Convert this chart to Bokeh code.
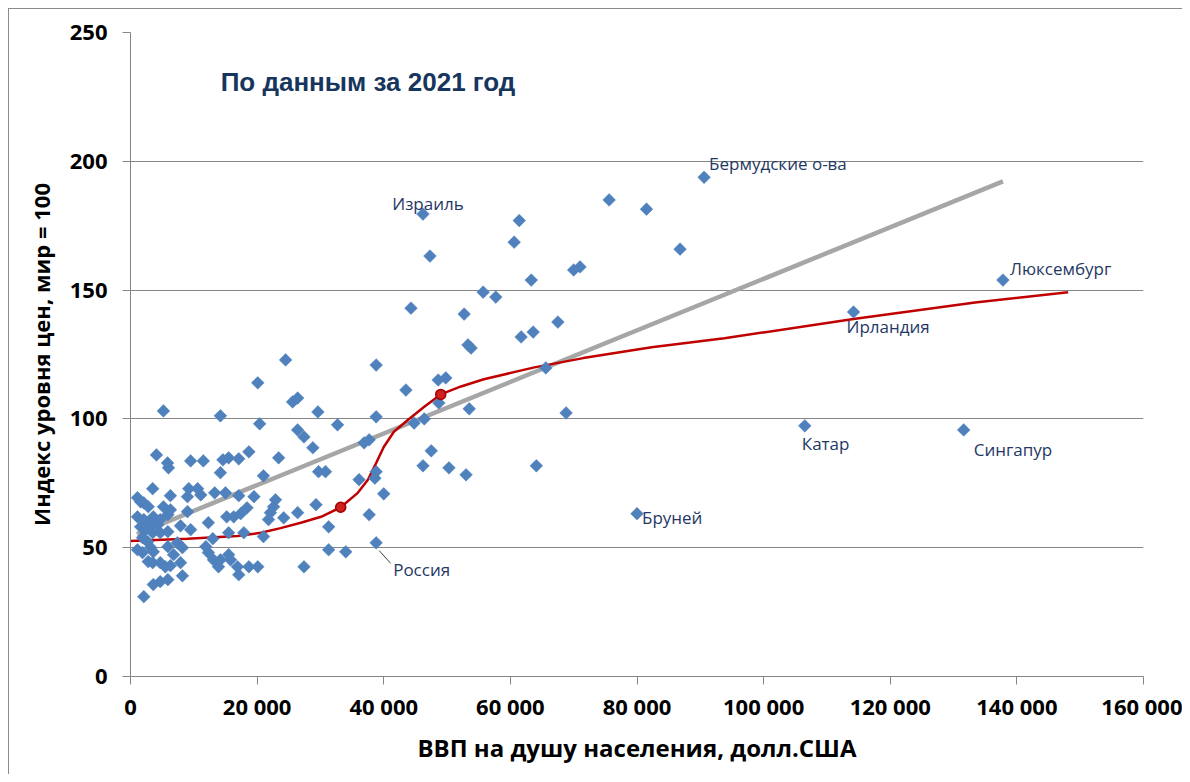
import numpy as np
from bokeh.plotting import figure
from bokeh.models import Label, FixedTicker, Range1d, ColumnDataSource
from bokeh.embed import file_html
from bokeh.resources import INLINE

# ---------------- data ----------------
gdp = [4100, 5850, 6000, 9500, 11500, 14600, 15500, 17100, 18700, 14200, 21000,
       3500, 6300, 9200, 10600, 9000, 11100, 13300, 15000, 17100, 19500,
       1100, 1600, 2100, 2800, 1100, 2100, 3200, 4300, 5200, 6300, 5900, 3600, 4700,
       9000, 12300, 15200, 16300, 17400, 18400, 7900, 9500, 1600, 2400, 3500, 4700,
       5900, 15500, 17900, 1900, 2700, 13000, 1100, 1900, 3200, 3600, 5900, 7400,
       8200, 11900, 12300, 2800, 3500, 4700, 5500, 6300, 6800, 7900, 13100, 14200,
       15500, 15800, 13900, 16900, 18700, 20100, 17100, 8200, 3600, 4700, 5900, 2100,
       5200, 14200, 20100, 20400,
       24500, 25600, 26400, 29600, 38800, 38800, 32700, 26400, 27400, 28800, 36900,
       37700, 23400, 29700, 30800, 38800, 38600, 36100, 40000, 22900, 22600, 22100,
       21800, 24200, 26400, 29300, 37700, 31300, 21000, 38800, 31300, 34000, 27400,
       43500, 48600, 49800, 48700, 53500, 44800, 46400, 47500, 46200, 50300, 53000,
       64100, 65600, 68800, 44300, 53300, 53800, 61700, 63600, 67500, 52700, 55700,
       57700, 63300, 70000, 71000, 60600, 61400, 47300, 46200, 75600, 81500, 86800,
       90600, 80000, 106500, 114200, 131600, 137800]
price = [86, 82.9, 81, 83.7, 83.7, 84.1, 84.9, 84.5, 87.2, 79.1, 77.9,
         72.9, 70.2, 72.9, 72.9, 69.8, 70.5, 71.3, 71.3, 70.2, 69.8,
         69.4, 67.8, 67.4, 65.9, 62, 60.9, 59.7, 58.9, 65.9, 64.7, 62.8, 62, 60.9,
         64, 59.7, 62, 62, 63.2, 65.5, 58.5, 57, 58.1, 57, 55.8, 55.8,
         56.2, 55.8, 55.8, 53.9, 52.3, 53.5, 49.2, 48.1, 50, 48.4, 50.4, 51.9,
         50, 50.4, 48.1, 44.6, 44.2, 44.2, 42.6, 43, 47.3, 44.2, 45.3, 45.3,
         47.3, 45.3, 42.6, 42.6, 42.6, 42.6, 39.5, 39.1, 35.7, 36.8, 37.6, 31,
         103.1, 101.2, 114, 98.1,
         122.9, 106.6, 108.1, 102.7, 120.9, 100.8, 97.7, 95.7, 93, 88.8, 90.7,
         91.9, 84.9, 79.5, 79.5, 79.5, 77.0, 76.4, 70.9, 68.6, 65.9, 63.6,
         60.9, 61.6, 63.6, 66.7, 62.8, 58.1, 54.3, 51.9, 49.2, 48.4, 42.6,
         111.2, 115.1, 115.9, 106.2, 103.9, 98.4, 100, 87.6, 81.8, 81, 78.3,
         81.8, 119.8, 102.3, 143, 128.7, 127.5, 131.8, 133.7, 137.6, 140.7, 149.2,
         147.3, 153.9, 157.8, 159, 168.6, 177, 163.2, 179.5, 185, 181.4, 165.9,
         193.8, 63.2, 97.3, 141.5, 95.7, 153.9]

# linear trend (grey)
trend_x = [1000, 137800]
trend_y = [55.3, 192.2]

# smoothed curve (red)
curve_x = [0, 9000, 16900, 20600, 23700, 26900, 30100, 33200, 35900, 37500, 38800,
           40000, 41600, 43800, 46400, 49000, 52200, 55800, 63800, 71500, 82300,
           93800, 114200, 133400, 148100]
curve_y = [52.6, 53.5, 54.5, 55.8, 57.6, 59.7, 62, 65.7, 71.3, 76.4, 82.9,
           89.1, 95, 99.6, 104.7, 109.5, 112.6, 115.4, 120.0, 123.6, 127.8,
           131.3, 138.8, 145.2, 149.2]
knot_x = [33200, 49000]
knot_y = [65.7, 109.5]

# labelled countries
lab_names = ["Израиль", "Бермудские о-ва", "Люксембург", "Ирландия", "Катар",
             "Сингапур", "Бруней", "Россия"]
lab_x = [46200, 90600, 137800, 114200, 106500, 131600, 80000, 38800]
lab_y = [179.5, 193.8, 153.9, 141.5, 97.3, 95.7, 63.2, 51.9]

x_ticks = [0, 20000, 40000, 60000, 80000, 100000, 120000, 140000, 160000]
y_ticks = [0, 50, 100, 150, 200, 250]

title_text = "По данным за 2021 год"
x_title = "ВВП на душу населения, долл.США"
y_title = "Индекс уровня цен, мир = 100"

# ---------------- layout / style ----------------
label_offsets = {  # (x_offset, y_offset, align)
    "Израиль": (5, 11, "center"),
    "Бермудские о-ва": (5, 14, "left"),
    "Люксембург": (7, 12, "left"),
    "Ирландия": (-7, -15, "left"),
    "Катар": (-3, -18, "left"),
    "Сингапур": (10, -20, "left"),
    "Бруней": (5, -4, "left"),
    "Россия": (17, -27, "left"),
}

FONT = "Open Sans"
NAVY = "#1F3864"
AXIS_GRAY = "#868686"

p = figure(width=1174, height=766, output_backend="svg", toolbar_location=None,
           x_range=Range1d(0, 160000), y_range=Range1d(0, 250),
           min_border_left=121, min_border_right=40, min_border_top=23,
           min_border_bottom=99)
p.styles = {"margin-left": "8px", "margin-top": "8px",
            "border-left": "1px solid #8a8a8a", "border-top": "1px solid #8a8a8a"}
p.outline_line_color = None
p.background_fill_color = "white"

p.xgrid.visible = False
p.ygrid.grid_line_color = AXIS_GRAY
p.ygrid.grid_line_width = 1
p.ygrid.ticker = FixedTicker(ticks=y_ticks)

for ax in (p.xaxis[0], p.yaxis[0]):
    ax.axis_line_color = AXIS_GRAY
    ax.major_tick_line_color = AXIS_GRAY
    ax.major_tick_in = 0
    ax.major_tick_out = 8
    ax.minor_tick_line_color = None
    ax.major_label_text_font = FONT
    ax.major_label_text_font_style = "bold"
    ax.major_label_text_font_size = "22px"
    ax.major_label_text_color = "black"
    ax.axis_label_text_font = FONT
    ax.axis_label_text_font_style = "bold"
    ax.axis_label_text_color = "black"

p.xaxis.axis_label_text_font_size = "24px"
p.yaxis.axis_label_text_font_size = "22px"
p.xaxis.ticker = FixedTicker(ticks=x_ticks)
p.yaxis.ticker = FixedTicker(ticks=y_ticks)
p.xaxis.major_label_overrides = {t: f"{t:,}".replace(",", " ") for t in x_ticks}
p.xaxis.major_label_standoff = 6
p.yaxis.major_label_standoff = 15
p.xaxis.axis_label = x_title
p.yaxis.axis_label = y_title
p.xaxis.axis_label_standoff = 7
p.yaxis.axis_label_standoff = 11

# trend line and smoothed curve
p.line(trend_x, trend_y, line_color="#A6A6A6", line_width=4.5)
p.line(curve_x, curve_y, line_color="#C00000", line_width=2.5)

# points
src = ColumnDataSource(dict(x=gdp, y=price))
p.scatter("x", "y", source=src, marker="square", size=9, angle=np.pi / 4,
          fill_color="#4F81BD", line_color="#4F81BD", line_width=0.5)

p.scatter(knot_x, knot_y, marker="circle", size=10, fill_color="#D02020",
          line_color="#A00000", line_width=1.5)

# Russia leader line
ri = lab_names.index("Россия")
p.segment(x0=[lab_x[ri] + 470], y0=[lab_y[ri] - 3.0], x1=[lab_x[ri] + 2300],
          y1=[lab_y[ri] - 8.0], line_color="#404040", line_width=1)

for name, lx, ly in zip(lab_names, lab_x, lab_y):
    dx, dy, al = label_offsets[name]
    p.add_layout(Label(x=lx, y=ly, text=name, x_offset=dx, y_offset=dy,
                       text_align=al, text_baseline="middle",
                       text_font=FONT, text_font_size="17px",
                       text_color=NAVY))

p.add_layout(Label(x=14240, y=230.6, text=title_text, text_align="left",
                   text_baseline="middle", text_font="Liberation Sans",
                   text_font_style="bold", text_font_size="26px",
                   text_color="#17365D"))

open("out.html", "w").write(file_html(p, INLINE))
